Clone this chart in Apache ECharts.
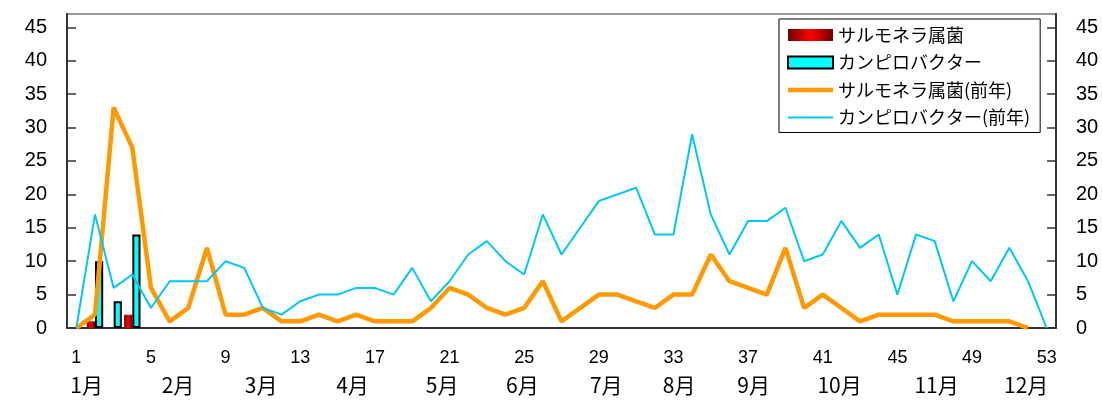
<!DOCTYPE html>
<html lang="ja">
<head>
<meta charset="UTF-8">
<title>週別発生状況</title>
<script src="https://cdn.jsdelivr.net/npm/echarts@6/dist/echarts.min.js"></script>
<style>
  * { margin: 0; padding: 0; }
  #chart { width: 1102px; height: 400px; }
</style>
</head>
<body>
<div id="chart"></div>
<script>
  // 週番号
  var weeks = ['1','2','3','4','5','6','7','8','9','10','11','12','13','14','15','16','17','18',
    '19','20','21','22','23','24','25','26','27','28','29','30','31','32','33','34','35','36',
    '37','38','39','40','41','42','43','44','45','46','47','48','49','50','51','52','53'];
  // 今年（棒）
  var salmonella = [null, 1, 0, 2];
  var campylo = [null, 10, 4, 14];
  // 前年（折れ線）
  var salmonellaPrev = [0, 2, 33, 27, 6, 1, 3, 12, 2, 2, 3, 1, 1, 2, 1, 2, 1, 1, 1, 3,
    6, 5, 3, 2, 3, 7, 1, 3, 5, 5, 4, 3, 5, 5, 11, 7, 6, 5, 12, 3,
    5, 3, 1, 2, 2, 2, 2, 1, 1, 1, 1, 0];
  var campyloPrev = [0, 17, 6, 8, 3, 7, 7, 7, 10, 9, 3, 2, 4, 5, 5, 6, 6, 5, 9, 4,
    7, 11, 13, 10, 8, 17, 11, 15, 19, 20, 21, 14, 14, 29, 17, 11, 16, 16, 18, 10,
    11, 16, 12, 14, 5, 14, 13, 4, 10, 7, 12, 7, 0];
  // 月ラベル
  var months = ['1月','2月','3月','4月','5月','6月','7月','8月','9月','10月','11月','12月'];
  var monthAt = [1.55, 6.45, 10.9, 15.8, 20.6, 24.9, 29.4, 33.3, 37.3, 41.9, 47.1, 51.9];

  var names = ['サルモネラ属菌', 'カンピロバクター', 'サルモネラ属菌(前年)', 'カンピロバクター(前年)'];

  var chart = echarts.init(document.getElementById('chart'));

  function yAxis(pos) {
    return {
      type: 'value',
      position: pos,
      min: 0,
      max: 47,
      interval: 5,
      splitLine: { show: false },
      axisLine: { show: true, lineStyle: { color: '#333', width: 2 } },
      axisTick: { show: true, inside: true, length: 9, lineStyle: { color: '#333', width: 1.5 } },
      axisLabel: {
        showMaxLabel: false,
        margin: 20,
        fontSize: 20,
        color: '#000',
        fontFamily: 'Liberation Sans'
      }
    };
  }

  chart.setOption({
    animation: false,
    grid: {
      left: 67, right: 46, top: 14, bottom: 72,
      show: true, borderColor: '#999', borderWidth: 2
    },
    legend: {
      orient: 'vertical',
      left: 779,
      top: 19,
      padding: [7, 10, 6, 8],
      itemGap: 9.5,
      itemWidth: 45,
      itemHeight: 12,
      borderColor: '#000',
      borderWidth: 1,
      backgroundColor: '#fff',
      textStyle: { fontSize: 18, fontFamily: 'Noto Sans CJK JP', color: '#000' },
      data: [
        { name: names[0], icon: 'rect' },
        { name: names[1], icon: 'rect' },
        // 折れ線の凡例は線だけにする
        { name: names[2], icon: 'path://M0,0H45V4.5H0Z' },
        { name: names[3], icon: 'path://M0,0H45V2H0Z' }
      ]
    },
    xAxis: [{
      type: 'category',
      data: weeks,
      axisLine: { lineStyle: { color: '#333', width: 2 } },
      axisTick: { inside: true, length: 6, interval: 0, lineStyle: { color: '#333', width: 1.5 } },
      axisLabel: { interval: 3, margin: 21, fontSize: 18, color: '#000', fontFamily: 'Liberation Sans' }
    }, {
      type: 'value', min: 0.5, max: 53.5, show: false
    }],
    yAxis: [yAxis('left'), yAxis('right')],
    series: [{
      name: names[0],
      type: 'bar',
      data: salmonella,
      barGap: '0%',
      barCategoryGap: '12%',
      itemStyle: {
        color: new echarts.graphic.LinearGradient(0, 0, 1, 0, [
          { offset: 0, color: '#700000' },
          { offset: 0.5, color: '#ff0000' },
          { offset: 1, color: '#700000' }
        ])
      }
    }, {
      name: names[1],
      type: 'bar',
      data: campylo,
      itemStyle: { color: '#00ffff', borderColor: '#000', borderWidth: 2 }
    }, {
      name: names[2],
      type: 'line',
      data: salmonellaPrev,
      symbol: 'none',
      itemStyle: { color: '#ff9900' },
      lineStyle: { color: '#ff9900', width: 4.5 },
      z: 3
    }, {
      name: names[3],
      type: 'line',
      data: campyloPrev,
      symbol: 'none',
      itemStyle: { color: '#00c8f5' },
      lineStyle: { color: '#00c8f5', width: 2 },
      z: 3
    }]
  });

  // 月ラベルは週の位置に合わせて置く
  var monthTexts = months.map(function (m, i) {
    return {
      type: 'text',
      x: chart.convertToPixel({ xAxisIndex: 1 }, monthAt[i]),
      y: 385,
      style: {
        text: m,
        fontSize: 21,
        fontFamily: 'Noto Sans CJK JP',
        fill: '#000',
        align: 'center',
        verticalAlign: 'middle'
      }
    };
  });
  chart.setOption({ graphic: monthTexts });
</script>
</body>
</html>
